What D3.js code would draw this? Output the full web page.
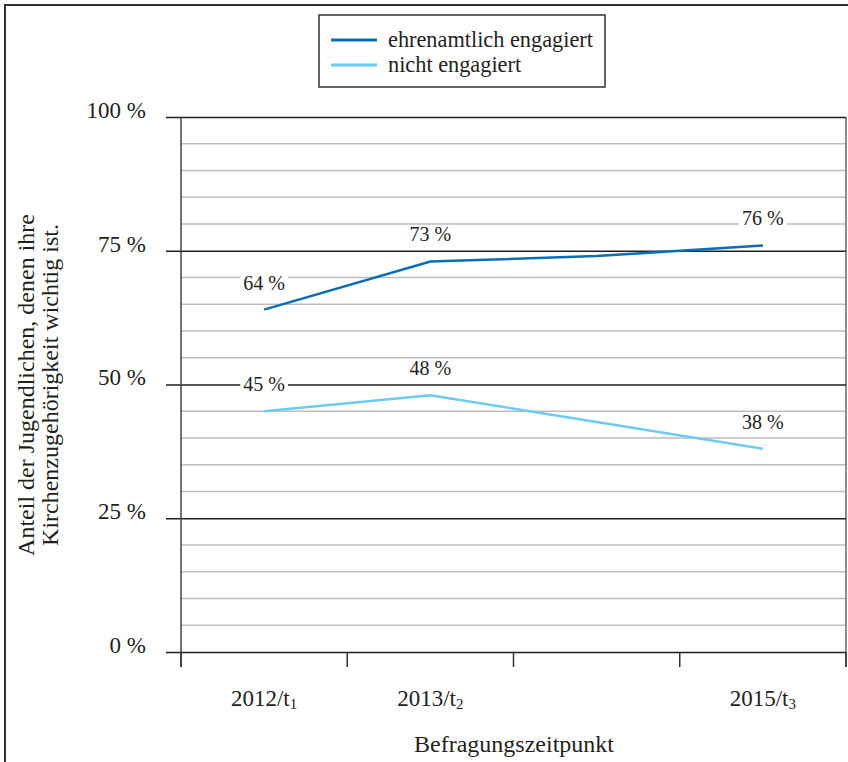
<!DOCTYPE html>
<html>
<head>
<meta charset="utf-8">
<script src="https://cdn.jsdelivr.net/npm/d3@7"></script>
<style>
	body { margin: 0; background: #fff; }
	svg text { font-family: "Liberation Serif", "DejaVu Serif", serif; fill: #231f20; }
</style>
</head>
<body>
<svg width="848" height="762" font-family="Liberation Serif, serif"></svg>
<script>
const years = ["2012", "2013", "2014", "2015"];
const tick_years = ["2012", "2013", "", "2015"];
const tick_subs = ["1", "2", "", "3"];
const engaged = [64, 73, 74, 76];
const not_engaged = [45, 48, 43, 38];
const show_label = [true, true, false, true];
const series_names = ["ehrenamtlich engagiert", "nicht engagiert"];
const series_colors = ["#0b6db5", "#6ccbf2"];
const y_ticks = [0, 25, 50, 75, 100];

const svg = d3.select("svg");
const plot_left = 181, plot_right = 846, plot_top = 117, plot_bottom = 652;

// outer frame (top and left only, rest runs off the page)
svg.append("path")
	.attr("d", "M5,762 L5,5 L848,5")
	.attr("fill", "none")
	.attr("stroke", "#333")
	.attr("stroke-width", 2);

const x = d3.scaleBand().domain(years).range([plot_left, plot_right]);
const y = d3.scaleLinear().domain([0, 100]).range([plot_bottom, plot_top]);

// minor grid every 5 %
const minor = d3.range(5, 100, 5).filter(v => v % 25 != 0);
svg.append("g")
	.selectAll("line")
	.data(minor)
	.join("line")
	.attr("x1", plot_left)
	.attr("x2", plot_right)
	.attr("y1", d => y(d))
	.attr("y2", d => y(d))
	.attr("stroke", "#bdbdbd")
	.attr("stroke-width", 1.5);

// right border
svg.append("line")
	.attr("x1", plot_right).attr("x2", plot_right)
	.attr("y1", plot_top).attr("y2", plot_bottom + 15)
	.attr("stroke", "#666")
	.attr("stroke-width", 1.5);

// major lines + y ticks
const y_axis = d3.axisLeft(y)
	.tickValues(y_ticks)
	.tickSize(-(plot_right - plot_left))
	.tickFormat(d => d + " %");

const gy = svg.append("g")
	.attr("transform", "translate(" + plot_left + ",0)")
	.call(y_axis)
	.attr("font-family", null)
	.attr("font-size", null);
gy.select(".domain").remove();
gy.selectAll(".tick line")
	.attr("x1", -15)
	.attr("stroke", "#231f20")
	.attr("stroke-width", 1.6);
gy.selectAll(".tick text")
	.attr("x", -35)
	.attr("dy", "0.02em")
	.attr("font-size", 23);

// y axis line
svg.append("line")
	.attr("x1", plot_left).attr("x2", plot_left)
	.attr("y1", plot_top).attr("y2", plot_bottom + 15)
	.attr("stroke", "#444")
	.attr("stroke-width", 1.5);

// x ticks at band edges
const edges = years.map(d => x(d)).concat([plot_right]);
svg.append("g")
	.selectAll("line")
	.data(edges)
	.join("line")
	.attr("x1", d => d)
	.attr("x2", d => d)
	.attr("y1", plot_bottom)
	.attr("y2", plot_bottom + 15)
	.attr("stroke", "#333")
	.attr("stroke-width", 1.5);

// x tick labels
const xl = svg.append("g")
	.selectAll("text")
	.data(years)
	.join("text")
	.attr("x", d => x(d) + x.bandwidth() / 2)
	.attr("y", 706)
	.attr("text-anchor", "middle")
	.attr("font-size", 23);
xl.each(function (d, i) {
	if (tick_years[i] == "") return;
	const t = d3.select(this);
	t.append("tspan").text(tick_years[i] + "/t");
	t.append("tspan").attr("dy", 3).attr("font-size", 15).text(tick_subs[i]);
});

svg.append("text")
	.attr("x", 514)
	.attr("y", 752)
	.attr("text-anchor", "middle")
	.attr("font-size", 24)
	.text("Befragungszeitpunkt");

// y title
const yt = svg.append("text")
	.attr("transform", "translate(0,385) rotate(-90)")
	.attr("text-anchor", "middle")
	.attr("font-size", 24);
yt.append("tspan").attr("x", 0).attr("y", 34).text("Anteil der Jugendlichen, denen ihre");
yt.append("tspan").attr("x", 0).attr("y", 58).text("Kirchenzugehörigkeit wichtig ist.");

// lines
const line = d3.line()
	.x((d, i) => x(years[i]) + x.bandwidth() / 2)
	.y(d => y(d));

[engaged, not_engaged].forEach((series, s) => {
	svg.append("path")
		.datum(series)
		.attr("d", line)
		.attr("fill", "none")
		.attr("stroke", series_colors[s])
		.attr("stroke-width", 2.5);
});

// value labels with white background
[engaged, not_engaged].forEach((series) => {
	series.forEach((v, i) => {
		if (!show_label[i]) return;
		const cx = x(years[i]) + x.bandwidth() / 2;
		const g = svg.append("g");
		const t = g.append("text")
			.attr("x", cx)
			.attr("y", y(v) - 20)
			.attr("text-anchor", "middle")
			.attr("font-size", 20)
			.text(v + " %");
		const b = t.node().getBBox();
		g.insert("rect", "text")
			.attr("x", b.x - 3)
			.attr("y", b.y + 2)
			.attr("width", b.width + 6)
			.attr("height", b.height - 4)
			.attr("fill", "#fff");
	});
});

// legend
const legend = svg.append("g");
legend.append("rect")
	.attr("x", 319).attr("y", 15)
	.attr("width", 286).attr("height", 72)
	.attr("fill", "#fff")
	.attr("stroke", "#333")
	.attr("stroke-width", 1.5);
series_names.forEach((name, i) => {
	const ly = 40 + i * 25;
	legend.append("line")
		.attr("x1", 331).attr("x2", 377)
		.attr("y1", ly).attr("y2", ly)
		.attr("stroke", series_colors[i])
		.attr("stroke-width", 3);
	legend.append("text")
		.attr("x", 388)
		.attr("y", ly + 7)
		.attr("font-size", 22.3)
		.text(name);
});
</script>
</body>
</html>
